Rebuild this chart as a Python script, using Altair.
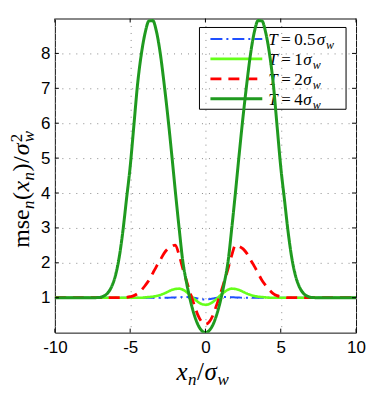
import altair as alt
import pandas as pd

# ---------------- data (symmetric about x=0) ----------------
x_half = [0, 0.25, 0.5, 0.75, 1, 1.25, 1.5, 1.75, 2, 2.25, 2.5, 2.75, 3, 3.25, 3.5,
          3.75, 4, 4.25, 4.5, 4.75, 5, 5.25, 5.5, 5.75, 6, 6.25, 6.5, 6.75, 7, 7.5,
          8, 9, 10]
mse_T05 = [0.95, 0.96, 0.98, 1.0, 1.01, 1.02, 1.02, 1.015, 1.01, 1.005] + [1.0] * 23
mse_T1 = [0.8, 0.82, 0.88, 0.97, 1.07, 1.16, 1.23, 1.26, 1.25, 1.22, 1.17, 1.12,
          1.08, 1.05, 1.03, 1.02, 1.01] + [1.0] * 16
mse_T2 = [0.24, 0.31, 0.5, 0.8, 1.12, 1.47, 1.83, 2.22, 2.51, 2.47, 2.4, 2.27,
          2.08, 1.9, 1.7, 1.5, 1.35, 1.22, 1.12, 1.06, 1.03, 1.01] + [1.0] * 11
mse_T4 = [0.0, 0.06, 0.23, 0.52, 0.92, 1.42, 2.03, 3.0, 4.05, 5.15, 6.2, 7.15,
          8.0, 8.62, 8.94, 8.93, 8.6, 8.0, 7.15, 5.95, 4.75, 3.8, 2.85, 2.1, 1.6,
          1.3, 1.13, 1.05, 1.01, 1.0, 1.0, 1.0, 1.0]

series_T = ["0.5", "1", "2", "4"]
series_vals = [mse_T05, mse_T1, mse_T2, mse_T4]
series_colors = ["#1f4fff", "#66ff1a", "#ff0000", "#1f9a1f"]
series_dash = [[12, 4, 2, 4], [1, 0], [11, 7], [1, 0]]
series_width = [2, 2.6, 2.8, 3]

x_ticks = [-10, -5, 0, 5, 10]
y_ticks = [1, 2, 3, 4, 5, 6, 7, 8]

W, H = 302, 315
SERIF = "Liberation Serif"

xscale = alt.Scale(domain=[-10, 10], nice=False, zero=False)
yscale = alt.Scale(domain=[0, 9], nice=False, zero=False)
xaxis = alt.Axis(values=x_ticks, title=None, grid=True, labelPadding=7,
                 labelFlush=False, labelExpr="toString(datum.value)")
yaxis = alt.Axis(values=y_ticks, title=None, grid=True, labelPadding=5,
                 labelExpr="toString(datum.value)")


def mirror(xs, ys):
    xf = [-v for v in reversed(xs[1:])] + list(xs)
    yf = list(reversed(ys[1:])) + list(ys)
    return pd.DataFrame({"x": xf, "y": yf})


one = pd.DataFrame({"a": [0]})


def txt(s, x, y, size, italic=True, angle=0, font=SERIF):
    kw = dict(text=s, font=font, fontSize=size, align="left", baseline="alphabetic",
              color="black")
    if italic:
        kw["fontStyle"] = "italic"
    if angle:
        kw["angle"] = angle
    return alt.Chart(one).mark_text(**kw).encode(x=alt.value(x), y=alt.value(y))


layers = []

# legend (transparent box, drawn beneath the curves like the reference)
layers.append(alt.Chart(one).mark_rect(fillOpacity=0, stroke="black", strokeWidth=1).encode(
    x=alt.value(145), x2=alt.value(292), y=alt.value(9), y2=alt.value(91)))
row_y = [20.5, 40.5, 60.5, 80.5]
num_w = {"0.5": 22, "1": 8.5, "2": 8.5, "4": 8.5}
for T, col, dash, sw, ry in zip(series_T, series_colors, series_dash, series_width, row_y):
    layers.append(alt.Chart(one).mark_rule(color=col, strokeDash=dash, strokeWidth=sw).encode(
        x=alt.value(156), x2=alt.value(208), y=alt.value(ry)))
    base = ry + 6.5
    layers.append(txt("T", 214, base, 17))
    layers.append(txt("=", 227, base, 17, italic=False))
    layers.append(txt(T, 240, base, 17, italic=False))
    sx = 240 + num_w[T] + 0.5
    layers.append(txt("σ", sx, base, 17))
    layers.append(txt("w", sx + 9.5, base + 3.5, 12))

# curves
for vals, col, dash, sw in zip(series_vals, series_colors, series_dash, series_width):
    df = mirror(x_half, vals)
    layers.append(alt.Chart(df).mark_line(color=col, strokeDash=dash, strokeWidth=sw,
                                          interpolate="monotone", clip=True).encode(
        x=alt.X("x:Q", scale=xscale, axis=xaxis),
        y=alt.Y("y:Q", scale=yscale, axis=yaxis)))

# inward ticks on all four sides
xt = pd.DataFrame({"x": x_ticks})
yt = pd.DataFrame({"y": y_ticks})
layers.append(alt.Chart(xt).mark_rule(color="black", strokeWidth=1).encode(
    x=alt.X("x:Q", scale=xscale), y=alt.value(H), y2=alt.value(H - 4)))
layers.append(alt.Chart(xt).mark_rule(color="black", strokeWidth=1).encode(
    x=alt.X("x:Q", scale=xscale), y=alt.value(0), y2=alt.value(4)))
layers.append(alt.Chart(yt).mark_rule(color="black", strokeWidth=1).encode(
    y=alt.Y("y:Q", scale=yscale), x=alt.value(0), x2=alt.value(4)))
layers.append(alt.Chart(yt).mark_rule(color="black", strokeWidth=1).encode(
    y=alt.Y("y:Q", scale=yscale), x=alt.value(W), x2=alt.value(W - 4)))

# x title  x_n / sigma_w
layers.append(txt("x", 122, 362, 25))
layers.append(txt("n", 133.5, 368, 17))
layers.append(txt("/", 142.5, 362, 25, italic=False))
layers.append(txt("σ", 150, 362, 25))
layers.append(txt("w", 163, 368, 17))

# y title  mse_n(x_n) / sigma_w^2  (rotated, reading upward)
bx = -26
layers.append(txt("mse", bx, 230, 24, italic=False, angle=270))
layers.append(txt("n", bx + 5, 191, 17, angle=270))
layers.append(txt("(", bx, 182, 24, italic=False, angle=270))
layers.append(txt("x", bx, 173.5, 24, angle=270))
layers.append(txt("n", bx + 5, 162.5, 17, angle=270))
layers.append(txt(")", bx, 153.5, 24, italic=False, angle=270))
layers.append(txt("/", bx, 145, 24, italic=False, angle=270))
layers.append(txt("σ", bx, 137, 24, angle=270))
layers.append(txt("w", bx + 5, 124, 17, angle=270))
layers.append(txt("2", bx - 7, 124, 17, italic=False, angle=270))

chart = alt.layer(*layers).properties(
    width=W, height=H,
    autosize=alt.AutoSizeParams(type="none"),
    padding={"left": 47, "top": 10, "right": 10, "bottom": 60},
).configure_view(
    stroke="#111", strokeWidth=1
).configure_axis(
    grid=True, gridDash=[1, 6], gridColor="#8a8a8a", gridOpacity=1, gridWidth=1,
    domain=False, ticks=False, tickSize=0,
    labelFont="Liberation Sans", labelFontSize=17, labelColor="black",
)

chart.save("out.html", embed_options={"renderer": "svg", "actions": False})
